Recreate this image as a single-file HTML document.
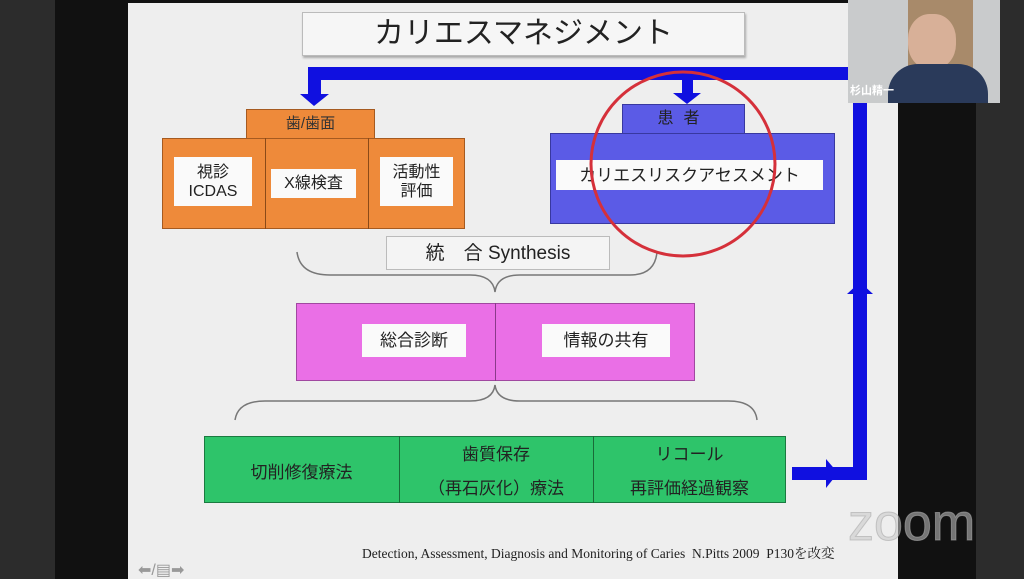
<!DOCTYPE html>
<html><head><meta charset="utf-8"><style>
body{margin:0;width:1024px;height:579px;overflow:hidden;background:#2c2c2c;position:relative;font-family:"Liberation Sans","Noto Sans CJK JP",sans-serif;}
div{position:absolute;box-sizing:border-box;}
.w{background:#fafafa;color:#222;text-align:center;font-size:16px;line-height:19px;display:flex;align-items:center;justify-content:center;flex-direction:column;}
.t{color:#222;text-align:center;font-size:17px;}
</style></head><body>
<div style="left:55px;top:0;width:921px;height:579px;background:#111"></div>
<div style="left:128px;top:3px;width:770px;height:576px;background:#eeeeee"></div>
<div style="left:302px;top:12px;width:443px;height:44px;background:#f6f6f6;border:1px solid #bbb;box-shadow:1px 2px 2px #aaa;font-size:30px;text-align:center;line-height:42px;color:#222;">カリエスマネジメント</div>

<!-- orange -->
<div style="left:246px;top:109px;width:129px;height:30px;background:#ee8a3a;border:1px solid #a55a20;font-size:15px;text-align:center;line-height:28px;color:#333">歯/歯面</div>
<div style="left:162px;top:138px;width:303px;height:91px;background:#ee8a3a;border:1px solid #a55a20"></div>
<div style="left:265px;top:138px;width:1px;height:91px;background:#8a4a18"></div>
<div style="left:368px;top:138px;width:1px;height:91px;background:#8a4a18"></div>
<div class="w" style="left:174px;top:157px;width:78px;height:49px;">視診<br>ICDAS</div>
<div class="w" style="left:271px;top:169px;width:85px;height:29px;">X線検査</div>
<div class="w" style="left:380px;top:157px;width:73px;height:49px;">活動性<br>評価</div>

<!-- blue -->
<div style="left:622px;top:104px;width:123px;height:30px;background:#5b5be6;border:1px solid #3838a0;font-size:16px;text-align:center;line-height:28px;color:#222;letter-spacing:10px">患者</div>
<div style="left:550px;top:133px;width:285px;height:91px;background:#5b5be6;border:1px solid #3838a0"></div>
<div class="w" style="left:556px;top:160px;width:267px;height:30px;font-size:17px">カリエスリスクアセスメント</div>

<div class="w" style="left:386px;top:236px;width:224px;height:34px;border:1px solid #bbb;font-size:19px;background:#f4f4f4">統　合 Synthesis</div>

<!-- pink -->
<div style="left:296px;top:303px;width:399px;height:78px;background:#ea6fe6;border:1px solid #a048a0"></div>
<div style="left:495px;top:303px;width:1px;height:78px;background:#8a3a8a"></div>
<div class="w" style="left:362px;top:324px;width:104px;height:33px;font-size:17px">総合診断</div>
<div class="w" style="left:542px;top:324px;width:128px;height:33px;font-size:17px">情報の共有</div>

<!-- green -->
<div style="left:204px;top:436px;width:582px;height:67px;background:#2ec46a;border:1px solid #1a7a40"></div>
<div style="left:399px;top:436px;width:1px;height:67px;background:#1a6a38"></div>
<div style="left:593px;top:436px;width:1px;height:67px;background:#1a6a38"></div>
<div class="t" style="left:204px;top:458px;width:195px">切削修復療法</div>
<div class="t" style="left:399px;top:438px;width:194px;line-height:34px">歯質保存<br>（再石灰化）療法</div>
<div class="t" style="left:593px;top:438px;width:193px;line-height:34px">リコール<br>再評価経過観察</div>

<svg style="position:absolute;left:0;top:0" width="1024" height="579">
<g fill="#1010e0">
<rect x="308" y="67" width="560" height="13"/>
<rect x="308" y="67" width="13" height="28"/>
<polygon points="300,94 329,94 314,106"/>
<rect x="682" y="78" width="11" height="17"/>
<polygon points="673,93 701,93 687,104"/>
<rect x="853" y="67" width="14" height="413"/>
<polygon points="847,294 873,294 860,282"/>
<rect x="792" y="467" width="75" height="13"/>
<polygon points="826,459 826,488 838,473"/>
</g>
<path d="M297,252 Q300,275 330,275 L470,275 Q493,275 495,292 Q497,275 520,275 L630,275 Q655,275 657,252" fill="none" stroke="#777" stroke-width="1.5"/>
<path d="M235,420 Q238,401 265,401 L470,401 Q493,401 495,385 Q497,401 520,401 L728,401 Q755,401 757,420" fill="none" stroke="#777" stroke-width="1.5"/>
<ellipse cx="683" cy="164" rx="92" ry="92" fill="none" stroke="#d5303a" stroke-width="3"/>
<text x="848" y="540" font-family="Liberation Sans" font-size="52" fill="rgba(200,200,200,0.55)" stroke="rgba(170,170,170,0.6)">zoom</text>
<text x="138" y="575" font-family="Liberation Sans" font-size="16" fill="#999">⬅/▤➡</text>
</svg>
<div style="left:362px;top:542px;font-family:'Liberation Serif','Noto Serif CJK SC',serif;font-size:13.5px;color:#222;white-space:nowrap">Detection, Assessment, Diagnosis and Monitoring of Caries&nbsp; N.Pitts 2009&nbsp; P130を改変</div>

<!-- webcam -->
<div style="left:848px;top:0;width:152px;height:103px;background:#c9cbcc">
<div style="left:60px;top:0;width:65px;height:70px;background:#a88a6a"></div>
<div style="left:60px;top:14px;width:48px;height:55px;border-radius:45%;background:#d8b098"></div>
<div style="left:40px;top:64px;width:100px;height:39px;border-radius:30px 30px 0 0;background:#2a3a5a"></div>
<div style="left:2px;top:82px;color:#fff;font-size:11px;font-weight:bold">杉山精一</div>
</div>
</body></html>
